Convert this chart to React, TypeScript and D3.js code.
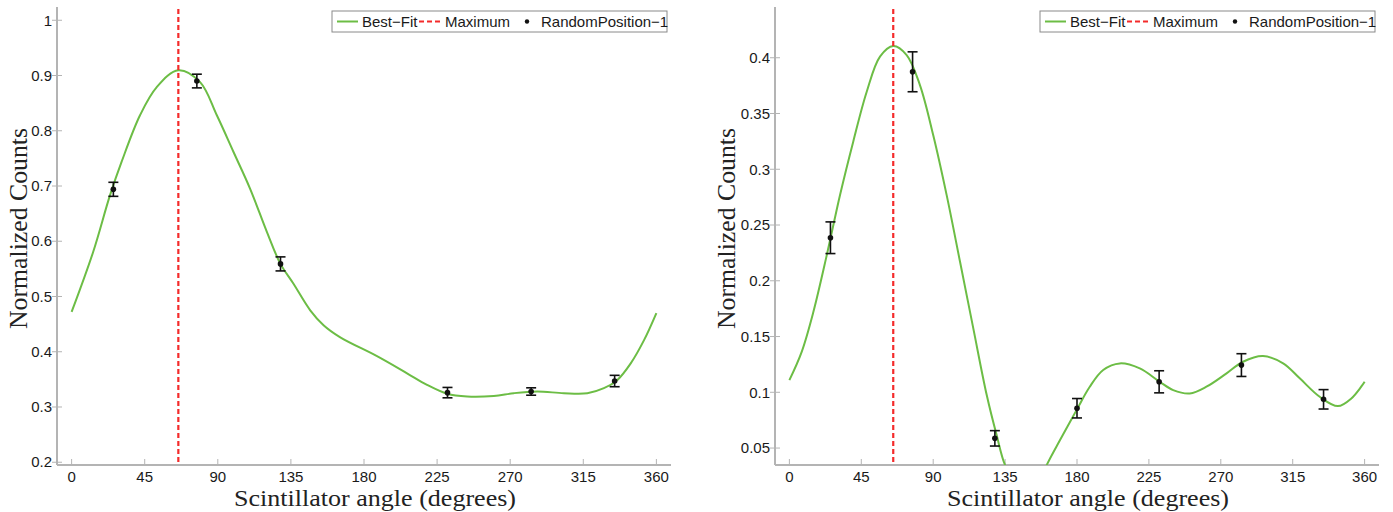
import { scaleLinear, line, curveCatmullRom } from "d3";

// measured angles (deg) of the detector positions
const angleL = [25.7, 77.1, 128.6, 231.4, 282.9, 334.3];
const countL = [0.694, 0.89, 0.559, 0.326, 0.328, 0.347];
const errL = [0.0127, 0.0124, 0.0127, 0.0094, 0.0067, 0.0103];

const angleR = [25.7, 77.1, 128.6, 180, 231.4, 282.9, 334.3];
const countR = [0.2386, 0.3874, 0.0587, 0.0857, 0.1094, 0.1244, 0.0937];
const errR = [0.0142, 0.0179, 0.0069, 0.0087, 0.0099, 0.0102, 0.0087];

// best-fit curves
const fitAngleL = [0, 13.3, 23.6, 30.8, 42.1, 52.4, 65.7, 79.1, 89.4, 99.6, 109.9, 120.2, 128.4, 136.6, 146.9, 155.1, 165.4, 188, 206.5, 218.8, 231.2, 243.5, 259.9, 272.2, 286.6, 303, 317.5, 327.7, 336, 344.2, 352.4, 360];
const fitValL = [0.472, 0.581, 0.683, 0.744, 0.828, 0.879, 0.9096, 0.888, 0.828, 0.762, 0.695, 0.617, 0.56, 0.523, 0.475, 0.448, 0.426, 0.392, 0.361, 0.34, 0.324, 0.319, 0.32, 0.325, 0.328, 0.325, 0.325, 0.334, 0.349, 0.379, 0.421, 0.47];

const fitAngleR = [0, 7.7, 15, 23.4, 31.7, 40, 48.4, 56.7, 65, 73.4, 81.7, 90, 98.4, 106.8, 115.1, 123.5, 129.7, 135, 142, 149, 156, 161, 169.3, 179.7, 188, 196.4, 206.8, 219.3, 231.8, 240.2, 250.6, 261, 273.6, 283.9, 296.4, 309, 319.4, 331.9, 343.3, 351.7, 360];
const fitValR = [0.1109, 0.1363, 0.172, 0.223, 0.277, 0.325, 0.3695, 0.401, 0.4105, 0.4024, 0.3755, 0.3307, 0.277, 0.217, 0.1573, 0.0975, 0.0616, 0.0347, 0.018, 0.012, 0.018, 0.0347, 0.057, 0.084, 0.105, 0.12, 0.1259, 0.1214, 0.1094, 0.102, 0.099, 0.105, 0.117, 0.1274, 0.1325, 0.1259, 0.1125, 0.096, 0.0876, 0.0945, 0.1094];

const maxAngleL = 65.7;
const maxAngleR = 65;

const xTicks = [0, 45, 90, 135, 180, 225, 270, 315, 360];
const yTicksL = [0.2, 0.3, 0.4, 0.5, 0.6, 0.7, 0.8, 0.9, 1];
const yTickLabelsL = ["0.2", "0.3", "0.4", "0.5", "0.6", "0.7", "0.8", "0.9", "1"];
const yTicksR = [0.05, 0.1, 0.15, 0.2, 0.25, 0.3, 0.35, 0.4];
const yTickLabelsR = ["0.05", "0.1", "0.15", "0.2", "0.25", "0.3", "0.35", "0.4"];

const legendLabels = ["Best\u2212Fit", "Maximum", "RandomPosition\u22121"];
const xTitle = "Scintillator angle (degrees)";
const yTitle = "Normalized Counts";

const green = "#6cbd45";
const red = "#f42b2b";
const axisGray = "#b4b4b4";
const sans = "'Liberation Sans', Arial, Helvetica, sans-serif";
const serif = "'Liberation Serif', 'Times New Roman', serif";

const panels = [
  {
    id: "l",
    left: 57, right: 671, top: 7, bottom: 465,
    yDomain: [0.195, 1.024],
    yTicks: yTicksL, yTickLabels: yTickLabelsL,
    angle: angleL, count: countL, err: errL,
    fitAngle: fitAngleL, fitVal: fitValL,
    maxAngle: maxAngleL,
    yTitleX: 27,
  },
  {
    id: "r",
    left: 775, right: 1379, top: 7, bottom: 465,
    yDomain: [0.0348, 0.4455],
    yTicks: yTicksR, yTickLabels: yTickLabelsR,
    angle: angleR, count: countR, err: errR,
    fitAngle: fitAngleR, fitVal: fitValR,
    maxAngle: maxAngleR,
    yTitleX: 735,
  },
];

const Panel = ({ p }) => {
  const x = scaleLinear().domain([-9, 369]).range([p.left, p.right]);
  const y = scaleLinear().domain(p.yDomain).range([p.bottom, p.top]);
  const fit = p.fitAngle.map((a, i) => [a, p.fitVal[i]]);
  const path = line()
    .x((d) => x(d[0]))
    .y((d) => y(d[1]))
    .curve(curveCatmullRom.alpha(0.5))(fit);
  const clipId = `clip-${p.id}`;
  const lgX = p.right - 4 - 335;
  const lgY = 11;

  return (
    <g>
      <defs>
        <clipPath id={clipId}>
          <rect x={p.left} y={p.top} width={p.right - p.left} height={p.bottom - p.top} />
        </clipPath>
      </defs>

      {/* axes */}
      <line x1={p.left} x2={p.left} y1={p.top} y2={p.bottom} stroke={axisGray} strokeWidth={2} />
      <line x1={p.left} x2={p.right} y1={p.bottom} y2={p.bottom} stroke={axisGray} strokeWidth={2} />
      {p.yTicks.map((t, i) => (
        <g key={i} transform={`translate(${p.left},${y(t)})`}>
          <line x1={-5} x2={5} stroke={axisGray} strokeWidth={1} />
          <text x={-5} dy="0.35em" textAnchor="end" fontFamily={sans} fontSize={15} fill="#1a1a1a">
            {p.yTickLabels[i]}
          </text>
        </g>
      ))}
      {xTicks.map((t) => (
        <g key={t} transform={`translate(${x(t)},${p.bottom})`}>
          <line y1={0} y2={-6} stroke={axisGray} strokeWidth={1} />
          <text y={16.5} textAnchor="middle" fontFamily={sans} fontSize={15} fill="#1a1a1a">
            {t}
          </text>
        </g>
      ))}

      <text
        x={(p.left + p.right) / 2 + 11}
        y={506}
        textAnchor="middle"
        fontFamily={serif}
        fontSize={24}
        textLength={282}
        lengthAdjust="spacingAndGlyphs"
        fill="#222"
      >
        {xTitle}
      </text>
      <text
        transform={`translate(${p.yTitleX},228.5) rotate(-90)`}
        textAnchor="middle"
        fontFamily={serif}
        fontSize={25}
        textLength={201}
        lengthAdjust="spacingAndGlyphs"
        fill="#222"
      >
        {yTitle}
      </text>

      {/* fit + max */}
      <g clipPath={`url(#${clipId})`}>
        <path d={path} fill="none" stroke={green} strokeWidth={2} />
      </g>
      <line
        x1={x(p.maxAngle)} x2={x(p.maxAngle)} y1={p.top + 2} y2={p.bottom}
        stroke={red} strokeWidth={2.2} strokeDasharray="5,3"
      />

      {/* data with error bars */}
      {p.angle.map((a, i) => {
        const cx = x(a);
        const y0 = y(p.count[i] - p.err[i]);
        const y1 = y(p.count[i] + p.err[i]);
        return (
          <g key={i} stroke="#111" strokeWidth={1.6}>
            <line x1={cx} x2={cx} y1={y0} y2={y1} />
            <line x1={cx - 5} x2={cx + 5} y1={y0} y2={y0} />
            <line x1={cx - 5} x2={cx + 5} y1={y1} y2={y1} />
            <circle cx={cx} cy={y(p.count[i])} r={2.8} fill="#111" stroke="none" />
          </g>
        );
      })}

      {/* legend */}
      <g transform={`translate(${lgX},${lgY})`}>
        <rect width={335} height={21} fill="#fff" stroke="#8a8a8a" strokeWidth={1} />
        <line x1={5} x2={26} y1={10.5} y2={10.5} stroke={green} strokeWidth={2} />
        <text x={30} y={15.8} fontFamily={sans} fontSize={15} fill="#1a1a1a">{legendLabels[0]}</text>
        <line x1={87} x2={110} y1={10.5} y2={10.5} stroke={red} strokeWidth={2.2} strokeDasharray="5,3" />
        <text x={113} y={15.8} fontFamily={sans} fontSize={15} fill="#1a1a1a">{legendLabels[1]}</text>
        <circle cx={195} cy={10.5} r={2.2} fill="#111" />
        <text x={209} y={15.8} fontFamily={sans} fontSize={15} fill="#1a1a1a">{legendLabels[2]}</text>
      </g>
    </g>
  );
};

const App = () => {
  return (
    <svg
      width={1393}
      height={512}
      style={{ position: "absolute", left: 0, top: 0, background: "#fff" }}
    >
      <rect width={1393} height={512} fill="#fff" />
      {panels.map((p) => (
        <Panel key={p.id} p={p} />
      ))}
    </svg>
  );
};

export default App;
